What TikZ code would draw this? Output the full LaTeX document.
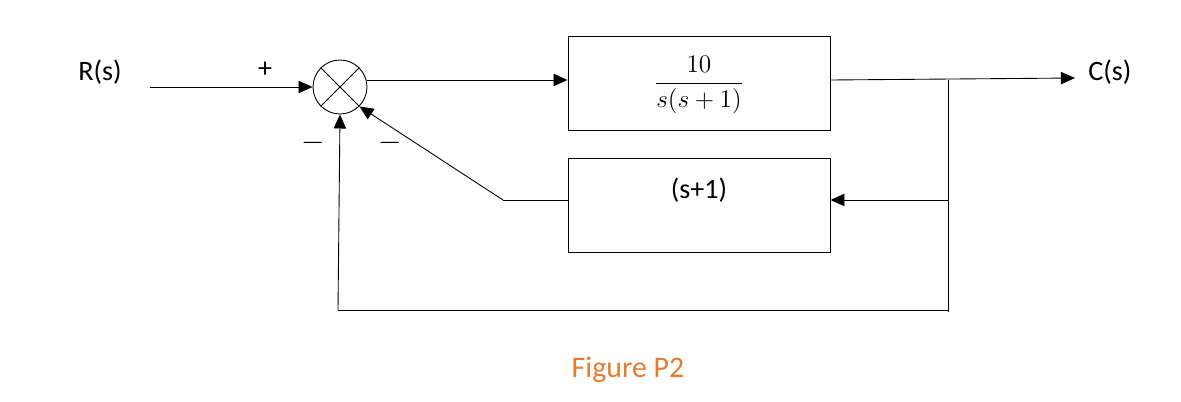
\documentclass[tikz,border=0pt]{standalone}
\usepackage{fontspec}
\setmainfont{Carlito}
\usetikzlibrary{arrows.meta}
\definecolor{figorange}{RGB}{228,124,52}
\begin{document}
\begin{tikzpicture}[x=0.02cm,y=-0.02cm,
  blk/.style={draw,line width=0.5pt,minimum width=5.24cm,minimum height=1.88cm,inner sep=0pt},
  wire/.style={line width=0.5pt},
  arr/.style={wire,-{Triangle[length=8pt,width=7pt]}},
  lbl/.style={font=\fontsize{16}{19}\selectfont}]
\useasboundingbox (0,0) rectangle (1181,402);
\node[lbl] (R) at (100,72) {R(s)};
\node[lbl] (C) at (1110,72) {C(s)};
\coordinate (rin) at (150,87);
\node[draw,circle,line width=0.5pt,minimum size=1.08cm,inner sep=0pt] (sum) at (340,87) {};
\draw[wire] (sum.north west) -- (sum.south east) (sum.north east) -- (sum.south west);
\node[blk] (G) at (699,83) {};
\node (Gt) at (699,85) {\fontsize{15}{18}\selectfont$\displaystyle\frac{10}{s(s+1)}$};
\node[blk] (H) at (699,205) {};
\node[lbl] at (699,190) {(s+1)};
\node[lbl] at (265,70) {+};
\node[lbl] at (313,143) {$-$};
\node[lbl] at (390,143) {$-$};
\coordinate (br) at (948,80);
\coordinate (bH) at (948,200);
\coordinate (bb) at (948,312);
\coordinate (lb) at (338,310);
\coordinate (hl) at (503,200);
\coordinate (cout) at (1075,78);
\draw[arr] (rin) -- (sum.west);
\draw[arr] (sum.east |- 0,80) -- (G.west |- 0,80);
\draw[arr] (G.east |- 0,80) -- (cout);
\draw[wire] (br) -- (bb);
\draw[arr] (bH) -- (H.east |- bH);
\draw[wire] (H.west |- hl) -- (hl);
\draw[arr] (hl) -- (sum.south east);
\draw[wire] (bb |- lb) -- (lb);
\draw[arr] (lb) -- (sum.south);
\node[font=\fontsize{17}{20}\selectfont,text=figorange] (fig) at (628,370) {Figure P2};
\end{tikzpicture}
\end{document}
